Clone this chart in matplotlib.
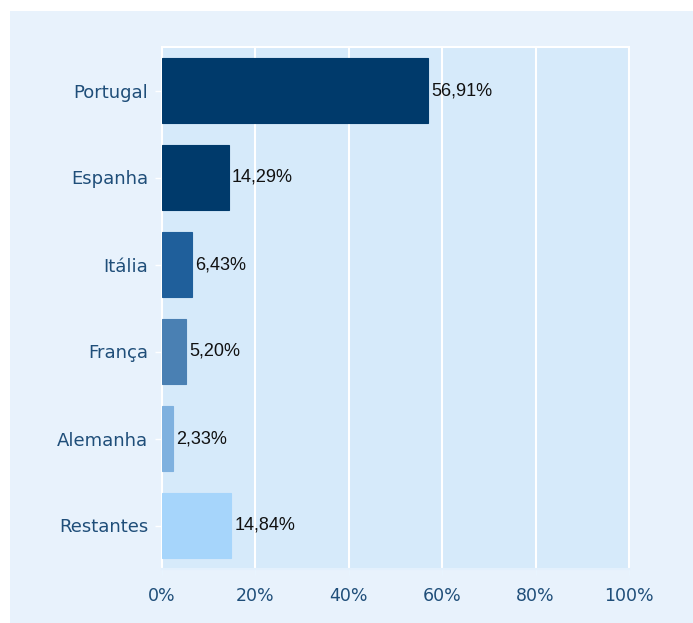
import matplotlib
matplotlib.use("Agg")
import matplotlib.pyplot as plt
from matplotlib.patches import Rectangle

categories = ["Portugal", "Espanha", "Itália", "França", "Alemanha", "Restantes"]
values = [56.91, 14.29, 6.43, 5.20, 2.33, 14.84]
labels = ["56,91%", "14,29%", "6,43%", "5,20%", "2,33%", "14,84%"]
colors = ["#003a6b", "#003a6b", "#1f5f9b", "#4a80b3", "#7fb1df", "#a6d5fb"]
xticks = [0, 20, 40, 60, 80, 100]
xtick_labels = ["0%", "20%", "40%", "60%", "80%", "100%"]

W, H = 693, 623
fig = plt.figure(figsize=(W / 100, H / 100), dpi=100)
fig.patch.set_facecolor("white")

# light blue panel behind the chart
fig.patches.append(Rectangle((10 / W, 0), 1 - 10 / W, 1 - 11 / H,
                             transform=fig.transFigure, facecolor="#e8f2fc",
                             edgecolor="none", zorder=-10))

left, right, top, bottom = 162, 629, 47, 569
ax = fig.add_axes([left / W, 1 - bottom / H, (right - left) / W, (bottom - top) / H])
ax.set_zorder(1)
ax.set_facecolor("#d6eafa")

y = list(range(len(categories)))
ax.barh(y, values, height=0.74, color=colors, edgecolor=colors, linewidth=0.8, zorder=3)
for yi, v, lab in zip(y, values, labels):
    ax.text(v + 0.7, yi, lab, va="center", ha="left", fontsize=13,
            family="Liberation Sans", color="#111111", zorder=4)

ax.set_xlim(0, 100)
ax.set_ylim(len(categories) - 0.5, -0.5)
ax.set_yticks(y)
ax.set_yticklabels(categories, fontsize=13, color="#1f4e79", family="DejaVu Sans")
ax.set_xticks(xticks)
ax.set_xticklabels(xtick_labels, fontsize=12.5, color="#1f4e79", family="DejaVu Sans")
ax.tick_params(axis="y", length=5, width=1, color="white", pad=5)
ax.tick_params(axis="x", length=4, width=1, color="#e8f4fe", pad=9)

ax.grid(axis="x", color="white", linewidth=1.5, zorder=1)
ax.set_axisbelow(True)
for side, sp in ax.spines.items():
    sp.set_color("white")
    sp.set_linewidth(1.5)
ax.spines["bottom"].set_color("#e3f0fc")

fig.savefig("out.png", dpi=100, facecolor=fig.get_facecolor())
